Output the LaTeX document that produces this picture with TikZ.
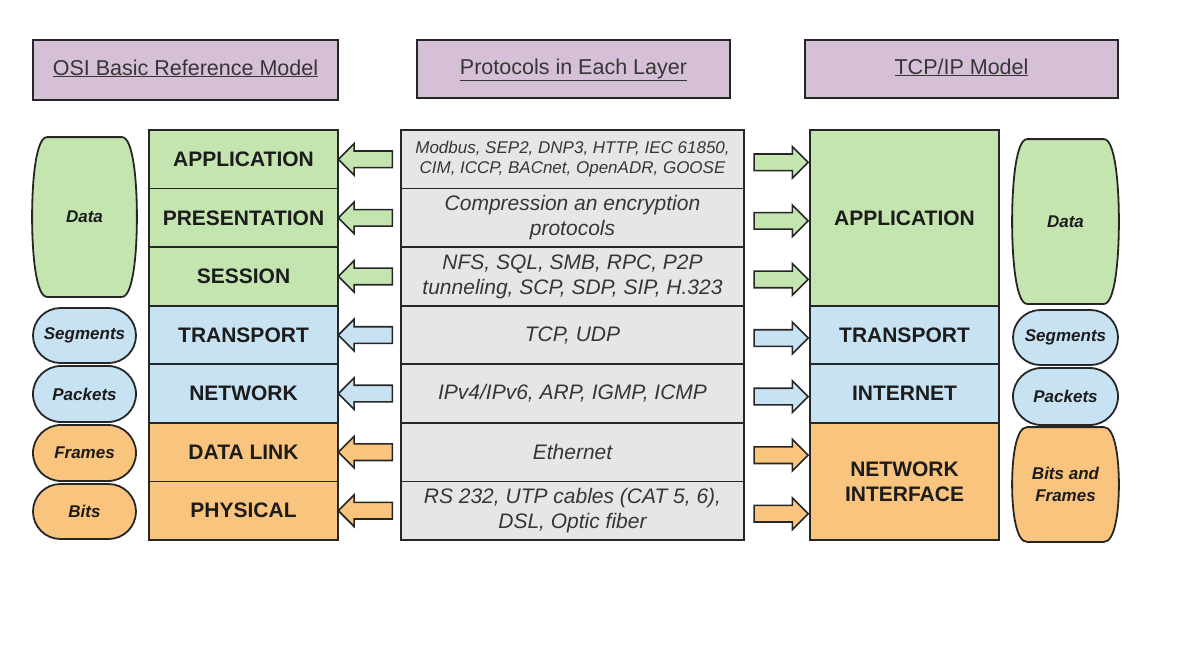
\documentclass[tikz,border=0pt]{standalone}
\usepackage{fontspec}
\setmainfont{Liberation Sans}
\usetikzlibrary{calc,positioning,shapes.misc,shapes.arrows,backgrounds}
\definecolor{layerGreen}{HTML}{C5E5B0}
\definecolor{layerBlue}{HTML}{C7E2F3}
\definecolor{layerOrange}{HTML}{F9C47D}
\definecolor{protoGrey}{HTML}{E6E6E6}
\definecolor{headPurple}{HTML}{D6C0D8}
\definecolor{edgeGrey}{HTML}{262626}
\definecolor{textDark}{HTML}{1C1C1C}
\definecolor{textGrey}{HTML}{363636}

\begin{document}
\begin{tikzpicture}[x=1pt,y=-1pt,node distance=0pt and 0pt]

\tikzset{layernode/.style={draw=edgeGrey,line width=1.8pt,outer sep=0pt,inner sep=2pt,minimum width=189pt,minimum height=58.57pt,align=center,text=textDark,font=\fontsize{21}{25}\selectfont\bfseries},
protonode/.style={layernode,fill=protoGrey,minimum width=343pt,text=textGrey,font=\fontsize{21}{25}\selectfont\itshape},
headnode/.style={draw=edgeGrey,line width=1.8pt,fill=headPurple,minimum height=58pt,text height=16pt,text depth=6pt,text=textGrey,font=\fontsize{21.5}{25}\selectfont},
unitnode/.style={shape=rounded rectangle,draw=edgeGrey,line width=1.8pt,inner sep=0pt,minimum width=103pt,align=center,text=textDark,font=\fontsize{17}{22}\selectfont\bfseries\itshape},
barrelnode/.style={unitnode,shape=rectangle,draw=none},
barrelline/.style={draw=edgeGrey,line width=1.8pt},
leftarr/.style={shape=single arrow,draw=edgeGrey,line width=1.6pt,inner xsep=0pt,inner ysep=7.5pt,minimum height=54pt,minimum width=30pt,single arrow head extend=7.5pt,shape border rotate=180},
rightarr/.style={leftarr,shape border rotate=0}}

\useasboundingbox (0,0) rectangle (1188,646);

% Headers
\node (osiHead) [headnode,minimum width=305pt,minimum height=60pt] at (185.5,70) {\underline{OSI Basic Reference Model}};
\node (protHead) [headnode,minimum width=313pt] at (573.5,69) {\underline{Protocols in Each Layer}};
\node (tcpHead) [headnode,minimum width=313pt] at (961.5,69) {\underline{TCP/IP Model}};

% OSI layers
\node (osi1) [layernode,fill=layerGreen] at (243.5,159.3) {APPLICATION};
\node (osi2) [below=of osi1,layernode,fill=layerGreen] {PRESENTATION};
\node (osi3) [below=of osi2,layernode,fill=layerGreen] {SESSION};
\node (osi4) [below=of osi3,layernode,fill=layerBlue] {TRANSPORT};
\node (osi5) [below=of osi4,layernode,fill=layerBlue] {NETWORK};
\node (osi6) [below=of osi5,layernode,fill=layerOrange] {DATA LINK};
\node (osi7) [below=of osi6,layernode,fill=layerOrange] {PHYSICAL};

% Protocol rows
\node (prot1) [right=63pt of osi1,protonode,font=\fontsize{17}{20}\selectfont\itshape] {Modbus, SEP2, DNP3, HTTP, IEC 61850,\\CIM, ICCP, BACnet, OpenADR, GOOSE};
\node (prot2) [below=of prot1,protonode] {Compression an encryption\\protocols};
\node (prot3) [below=of prot2,protonode] {NFS, SQL, SMB, RPC, P2P\\tunneling, SCP, SDP, SIP, H.323};
\node (prot4) [below=of prot3,protonode] {TCP, UDP};
\node (prot5) [below=of prot4,protonode] {IPv4/IPv6, ARP, IGMP, ICMP};
\node (prot6) [below=of prot5,protonode] {Ethernet};
\node (prot7) [below=of prot6,protonode] {RS 232, UTP cables (CAT 5, 6),\\DSL, Optic fiber};

% TCP/IP layers
\node (tcp1) [layernode,fill=layerGreen,anchor=north west,minimum height=175.7pt] at ($(prot1.north east)+(66,0)$) {APPLICATION};
\node (tcp2) [below=of tcp1,layernode,fill=layerBlue] {TRANSPORT};
\node (tcp3) [below=of tcp2,layernode,fill=layerBlue] {INTERNET};
\node (tcp4) [below=of tcp3,layernode,fill=layerOrange,minimum height=117.1pt] {NETWORK\\INTERFACE};

% Data units, left
\node (dataL) [barrelnode,minimum height=158pt] at (84.5,217) {Data};
\node (segL) [unitnode,fill=layerBlue,minimum height=55pt] at (84.5,335.5) {Segments};
\node (pktL) [unitnode,fill=layerBlue,minimum height=56pt] at (84.5,394) {Packets};
\node (frmL) [unitnode,fill=layerOrange,minimum height=56pt] at (84.5,453) {Frames};
\node (bitL) [unitnode,fill=layerOrange,minimum height=55pt] at (84.5,511.5) {Bits};

% Data units, right
\node (dataR) [barrelnode,minimum width=105pt,minimum height=163pt] at (1065.5,221.5) {Data};
\node (segR) [unitnode,fill=layerBlue,minimum width=105pt,minimum height=55pt] at (1065.5,337.5) {Segments};
\node (pktR) [unitnode,fill=layerBlue,minimum width=105pt,minimum height=57pt] at (1065.5,396.5) {Packets};
\node (bfR) [barrelnode,minimum width=105pt,minimum height=113pt] at (1065.5,484.5) {Bits and\\Frames};

% Barrel outlines behind the tall units
\begin{scope}[on background layer]
\foreach \n/\c/\k in {dataL/layerGreen/42,dataR/layerGreen/44,bfR/layerOrange/30} {
  \draw[barrelline,fill=\c] ($(\n.north west)+(15,0)$) -- ($(\n.north east)+(-15,0)$)
    .. controls ($(\n.north east)+(-4,0)$) and ($(\n.north east)+(0,\k)$) .. (\n.east)
    .. controls ($(\n.south east)+(0,-\k)$) and ($(\n.south east)+(-4,0)$) .. ($(\n.south east)+(-15,0)$)
    -- ($(\n.south west)+(15,0)$)
    .. controls ($(\n.south west)+(4,0)$) and ($(\n.south west)+(0,-\k)$) .. (\n.west)
    .. controls ($(\n.north west)+(0,\k)$) and ($(\n.north west)+(4,0)$) .. cycle;
}
\end{scope}

% Arrows
\foreach \i/\c in {1/layerGreen,2/layerGreen,3/layerGreen,4/layerBlue,5/layerBlue,6/layerOrange,7/layerOrange} {
  \node (al\i) [leftarr,fill=\c] at ($(osi\i.east)!0.5!(prot\i.west)$) {};
  \node (ar\i) [rightarr,fill=\c] at ($(prot\i.east)!0.5!(prot\i.east-|tcp1.west) + (0,3)$) {};
}

\end{tikzpicture}
\end{document}
